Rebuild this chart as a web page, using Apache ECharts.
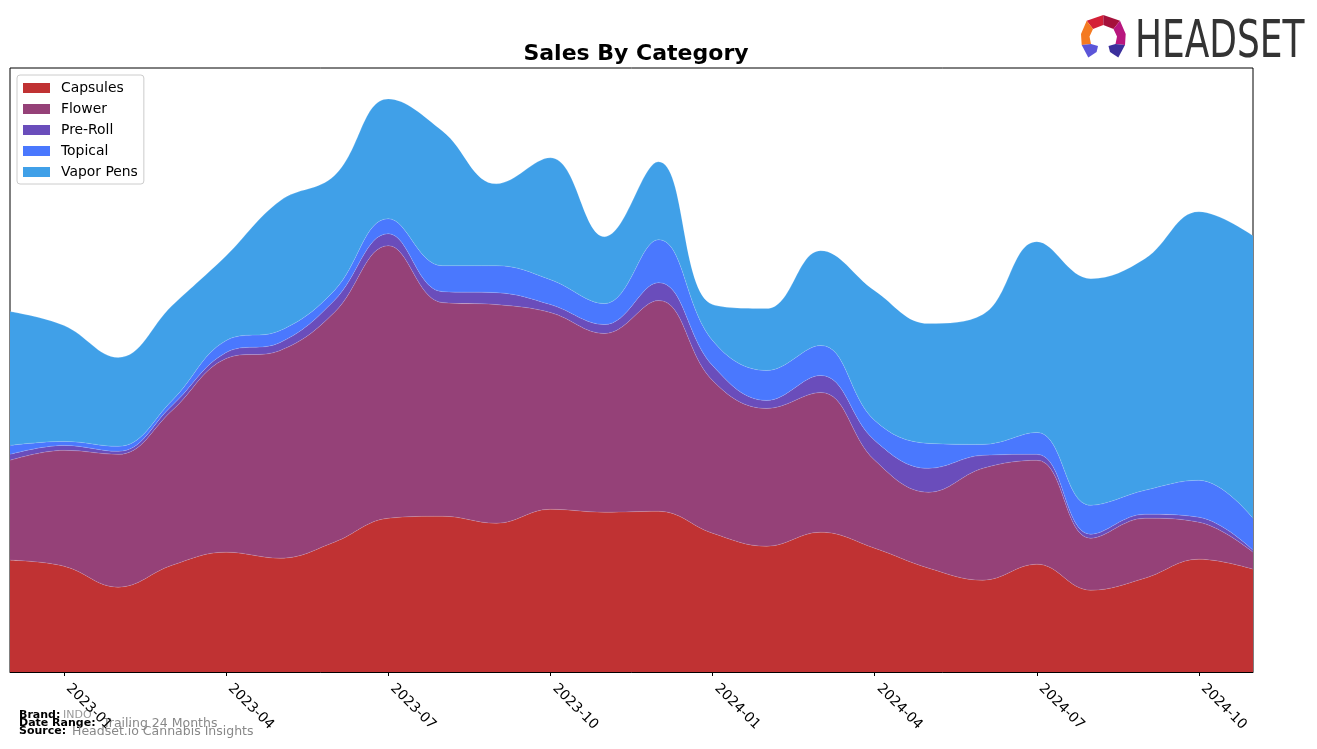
<!DOCTYPE html>
<html>
<head>
<meta charset="utf-8">
<script src="https://cdn.jsdelivr.net/npm/echarts@6/dist/echarts.min.js"></script>
<style>
html,body{margin:0;padding:0;background:#fff;}
#chart{width:1317px;height:749px;}
</style>
</head>
<body>
<div id="chart"></div>
<script>
const months = ["2022-12","2023-01","2023-02","2023-03","2023-04","2023-05","2023-06","2023-07","2023-08","2023-09","2023-10","2023-11","2023-12","2024-01","2024-02","2024-03","2024-04","2024-05","2024-06","2024-07","2024-08","2024-09","2024-10","2024-11"];
const capsules  = [112,106,85,107,120,114,130,154,156,149,163,160,161,139,126,140,124,104,92,108,82,94,113,103];
const flower    = [100,116,133,155,194,208,230,273,214,219,197,179,211,153,138,140,88,76,112,104,52,60,37,17];
const preRoll   = [6,5,3,5,6,8,12,12,11,12,8,9,18,15,8,17,20,24,13,6,4,4,5,2];
const topical   = [9,4,5,5,12,12,10,15,26,27,25,21,43,25,30,30,20,25,11,22,29,24,37,32];
const vaporPens = [134,116,89,95,85,130,115,120,135,82,122,67,78,36,62,95,130,120,130,191,227,232,269,283];

const seriesNames = ["Capsules","Flower","Pre-Roll","Topical","Vapor Pens"];
const seriesData = [capsules, flower, preRoll, topical, vaporPens];
const colors = ["#C03233","#954178","#6A4DBB","#4A78FE","#40A0E8"];

const chart = echarts.init(document.getElementById('chart'), null, {renderer:'canvas'});

const series = seriesNames.map((name, i) => ({
  name: name,
  type: 'line',
  stack: 'total',
  smooth: 0.4,
  symbol: 'none',
  data: seriesData[i],
  lineStyle: {width: 0.6, color: 'rgba(255,255,255,0.25)'},
  itemStyle: {color: colors[i]},
  areaStyle: {color: colors[i], opacity: 1},
  emphasis: {disabled: true},
  z: 2
}));

const logoParts = [
  {pts: [[1086.7,20.7],[1103.3,15],[1103.3,25],[1093,29]], color:'#D42037'},
  {pts: [[1103.3,15],[1120,20.7],[1113.5,29],[1103.3,25]], color:'#A5113B'},
  {pts: [[1120,20.7],[1125.7,34],[1125,45],[1115.5,44],[1117,36.5],[1113.5,29]], color:'#B8167E'},
  {pts: [[1086.7,20.7],[1081,34],[1081.7,45],[1091,44],[1089.5,36.5],[1093,29]], color:'#F47A21'},
  {pts: [[1125,45],[1118.3,57.5],[1110,52],[1108.5,46],[1115.5,44]], color:'#3B2F9C'},
  {pts: [[1081.7,45],[1088.3,57.5],[1096.6,52],[1098,46],[1091,44]], color:'#5B55D8'}
];

const graphics = logoParts.map(p => ({
  type: 'polygon', shape: {points: p.pts}, style: {fill: p.color}, silent: true
}));
graphics.push(
  {type:'text', left: 1135, top: 18, style:{text:'HEADSET', fontFamily:'DejaVu Sans', fontSize:51, fill:'#333333'}, scaleX:0.705, silent:true},
  {type:'text', x:19, y:715, style:{text:'Brand:', fontFamily:'DejaVu Sans', fontWeight:'bold', fontSize:11, fill:'#000', verticalAlign:'middle'}},
  {type:'text', x:63, y:715, style:{text:'INDO', fontFamily:'DejaVu Sans', fontSize:11, fill:'#999', verticalAlign:'middle'}},
  {type:'text', x:19, y:723.5, style:{text:'Date Range:', fontFamily:'DejaVu Sans', fontWeight:'bold', fontSize:11, fill:'#000', verticalAlign:'middle'}},
  {type:'text', x:103, y:723.5, style:{text:'Trailing 24 Months', fontFamily:'DejaVu Sans', fontSize:12.5, fill:'#888', verticalAlign:'middle'}},
  {type:'text', x:19, y:731.5, style:{text:'Source:', fontFamily:'DejaVu Sans', fontWeight:'bold', fontSize:11, fill:'#000', verticalAlign:'middle'}},
  {type:'text', x:72, y:731.5, style:{text:'Headset.io Cannabis Insights', fontFamily:'DejaVu Sans', fontSize:12.5, fill:'#888', verticalAlign:'middle'}}
);

chart.setOption({
  animation: false,
  backgroundColor: '#ffffff',
  color: colors,
  title: {
    text: 'Sales By Category',
    left: 631, top: 38, textAlign: 'center',
    textStyle: {fontFamily:'DejaVu Sans', fontWeight:'bold', fontSize:22, color:'#000'}
  },
  legend: {
    data: seriesNames,
    orient: 'vertical',
    left: 17, top: 75,
    padding: [6, 6, 5, 6],
    itemWidth: 27, itemHeight: 10,
    itemGap: 7,
    icon: 'rect',
    backgroundColor: '#fff',
    borderColor: '#cccccc', borderWidth: 1, borderRadius: 3,
    textStyle: {fontFamily:'DejaVu Sans', fontSize:13.9, color:'#000', lineHeight:14, padding:[0,0,0,6]},
    selectedMode: false
  },
  grid: {
    left: 10, right: 64, top: 68, bottom: 77,
    show: true, borderColor: '#000', borderWidth: 1, backgroundColor: 'transparent',
    containLabel: false
  },
  xAxis: {
    type: 'category',
    data: months,
    boundaryGap: false,
    axisLine: {show: true, lineStyle: {color:'#000', width:1}},
    axisTick: {show: true, length: 4, lineStyle:{color:'#000'}, interval: (i) => i % 3 === 1},
    axisLabel: {
      interval: (i) => i % 3 === 1,
      rotate: -45,
      margin: 10,
      padding: [0, 0, 0, 6],
      fontFamily: 'DejaVu Sans', fontSize: 13.9, color: '#000'
    },
    splitLine: {show: false}
  },
  yAxis: {
    type: 'value',
    min: 0, max: 605,
    show: false,
    splitLine: {show: false}
  },
  series: series,
  graphic: graphics
});
</script>
</body>
</html>
